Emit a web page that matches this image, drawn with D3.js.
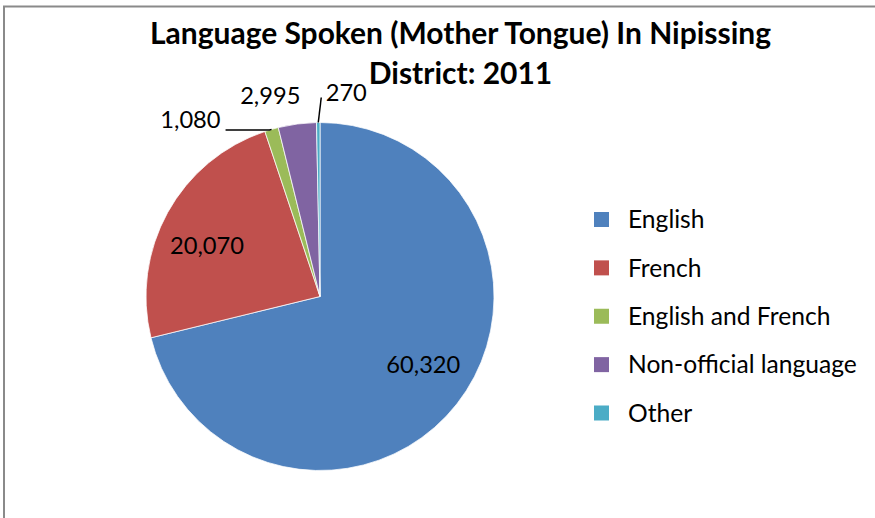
<!DOCTYPE html>
<html>
<head>
<meta charset="utf-8">
<script src="https://cdn.jsdelivr.net/npm/d3@7"></script>
<style>
  html, body { margin: 0; padding: 0; background: #fff; }
  svg { display: block; }
  text { font-family: Lato, "Open Sans", "Liberation Sans", sans-serif; fill: #000; }
</style>
</head>
<body>
<svg id="chart" width="875" height="518"></svg>
<script>
// ---- data ----
const titleLines = ["Language Spoken (Mother Tongue) In Nipissing", "District: 2011"];
const categories = ["English", "French", "English and French", "Non-official language", "Other"];
const values = [60320, 20070, 1080, 2995, 270];
const colors = ["#4F81BD", "#C0504D", "#9BBB59", "#8064A2", "#4BACC6"];

// ---- layout ----
const W = 875, H = 518;
const cx = 320, cy = 296.5, R = 174;
const svg = d3.select("#chart");

// outer frame (continues past right/bottom edges)
svg.append("rect")
  .attr("x", 4).attr("y", 6.5).attr("width", W + 10).attr("height", H + 10)
  .attr("fill", "#fff").attr("stroke", "#8a8a8a").attr("stroke-width", 2);

// helper: fit font size so that given text reaches a target width
function fitSize(sel, target) {
  const len = sel.node().getComputedTextLength();
  const s = parseFloat(sel.attr("font-size"));
  return s * target / len;
}

// ---- title ----
const t1 = svg.append("text").attr("x", 460.5).attr("y", 44)
  .attr("text-anchor", "middle").attr("font-weight", "bold").attr("font-size", 28)
  .text(titleLines[0]);
const ts = fitSize(t1, 621);
t1.attr("font-size", ts);
svg.append("text").attr("x", 460.5).attr("y", 84)
  .attr("text-anchor", "middle").attr("font-weight", "bold").attr("font-size", ts)
  .text(titleLines[1]);

// ---- pie ----
const data = categories.map((c, i) => ({ name: c, value: values[i], color: colors[i] }));
const pie = d3.pie().sort(null).value(d => d.value);
const arcs = pie(data);
const arc = d3.arc().innerRadius(0).outerRadius(R);
const g = svg.append("g").attr("transform", `translate(${cx},${cy})`);

g.selectAll("path.slice").data(arcs).enter().append("path")
  .attr("class", "slice")
  .attr("d", arc)
  .attr("fill", d => d.data.color)
  .attr("stroke", "#fff").attr("stroke-width", 0.75);

// ---- data labels ----
const fmt = d3.format(",");
const edgeArc = d3.arc().innerRadius(R).outerRadius(R);

// measure label font size
const probe = svg.append("text").attr("font-size", 24).text("60,320");
const ls = fitSize(probe, 74);
probe.remove();

// placement for small slices (offset of label from slice edge point), and leader style
const outside = {
  2: { dx: -51, dy: -1, anchor: "end", leader: "elbow" },
  3: { dx: -27, dy: -20, anchor: "middle", leader: null },
  4: { dx: 28, dy: -22, anchor: "middle", leader: "straight" }
};

arcs.forEach((d, i) => {
  const o = outside[i];
  if (!o) {
    const a = (d.startAngle + d.endAngle) / 2 - 0.079, r = R * 0.713;
    const x = r * Math.sin(a), y = -r * Math.cos(a);
    g.append("text").attr("x", x).attr("y", y).attr("dy", "0.35em")
      .attr("text-anchor", "middle").attr("font-size", ls)
      .text(fmt(d.data.value));
  } else {
    const [ex, ey] = edgeArc.centroid(d);
    const lx = ex + o.dx, ly = ey + o.dy;
    g.append("text").attr("x", lx).attr("y", ly)
      .attr("text-anchor", o.anchor).attr("font-size", ls)
      .text(fmt(d.data.value));
    if (o.leader === "elbow") {
      g.append("polyline")
        .attr("points", [[lx + 5, ly + 1.5], [ex - 2, ly + 1.5], [ex, ey]].map(p => p.join(",")).join(" "))
        .attr("fill", "none").attr("stroke", "#000").attr("stroke-width", 1.5);
    } else if (o.leader === "straight") {
      g.append("line")
        .attr("x1", lx - 25).attr("y1", ly - 3)
        .attr("x2", ex).attr("y2", ey)
        .attr("stroke", "#000").attr("stroke-width", 1.5);
    }
  }
});

// ---- legend ----
const legend = svg.append("g");
const rowY = d3.scalePoint().domain(categories).range([219.5, 413]);
const items = legend.selectAll("g").data(data).enter().append("g")
  .attr("transform", d => `translate(594,${rowY(d.name)})`);
items.append("rect").attr("x", 0).attr("y", -7.5).attr("width", 15).attr("height", 15)
  .attr("fill", d => d.color);
const lt = items.append("text").attr("x", 34).attr("y", 0).attr("dy", "0.35em")
  .attr("font-size", 24).text(d => d.name);
const legSize = fitSize(lt.filter((d, i) => i === 3), 229);
lt.attr("font-size", legSize);
</script>
</body>
</html>
